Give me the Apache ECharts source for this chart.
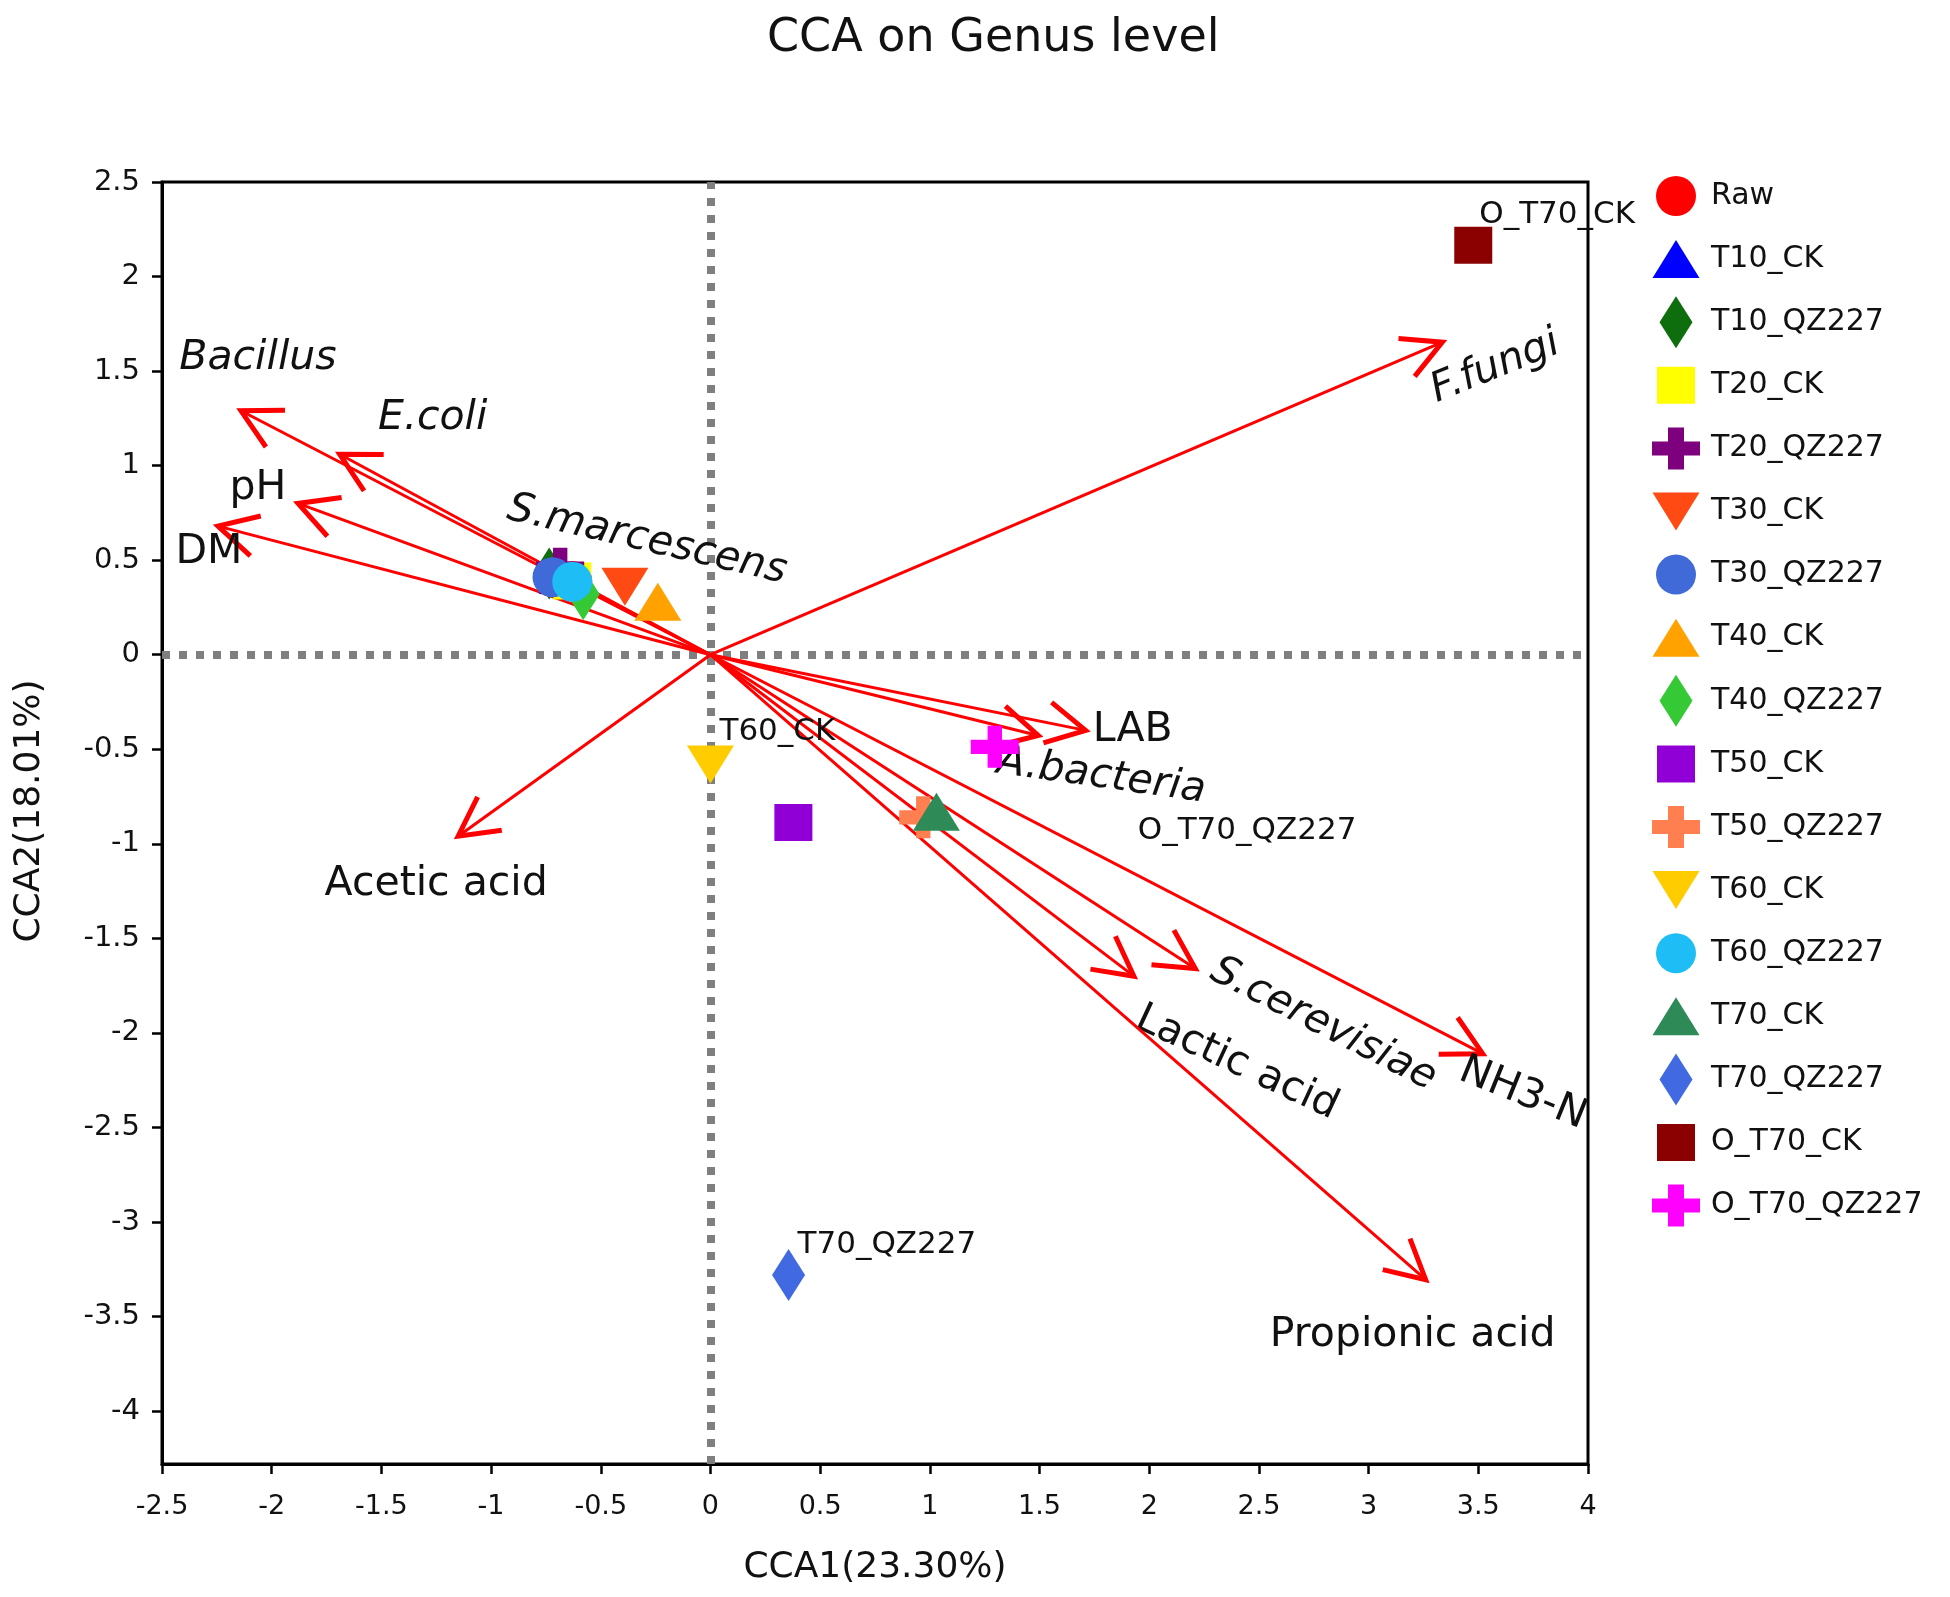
<!DOCTYPE html>
<html><head><meta charset="utf-8">
<script src="https://cdn.jsdelivr.net/npm/echarts@6.0.0/dist/echarts.min.js"></script>
<style>html,body{margin:0;padding:0;background:#fff;} #c{width:1950px;height:1597px;}</style>
</head><body><div id="c"></div><script>
// ---- data ----
const sampleNames = ['Raw','T10_CK','T10_QZ227','T20_CK','T20_QZ227','T30_CK','T30_QZ227','T40_CK','T40_QZ227','T50_CK','T50_QZ227','T60_CK','T60_QZ227','T70_CK','T70_QZ227','O_T70_CK','O_T70_QZ227'];
const sampleCCA1 = [-0.63,-0.676,-0.735,-0.63,-0.685,-0.39,-0.72,-0.24,-0.58,0.378,0.97,0.0,-0.63,1.03,0.356,3.477,1.296];
const sampleCCA2 = [0.39,0.423,0.43,0.39,0.455,0.36,0.41,0.28,0.32,-0.888,-0.86,-0.58,0.386,-0.83,-3.28,2.165,-0.487];

const arrowNames = ['Bacillus','E.coli','pH','DM','S.marcescens','F.fungi','LAB','A.bacteria','Lactic acid','S.cerevisiae','NH3-N','Propionic acid','Acetic acid'];
const arrowCCA1 = [-2.14,-1.69,-1.88,-2.245,-0.70,3.336,1.71,1.494,1.93,2.21,3.52,3.26,-1.15];
const arrowCCA2 = [1.29,1.06,0.80,0.68,0.42,1.653,-0.40,-0.427,-1.70,-1.66,-2.11,-3.305,-0.96];

const labelledSamples = ['O_T70_CK','T60_CK','T70_QZ227','O_T70_QZ227'];

// ---- styles ----
const FONT = 'DejaVu Sans, Verdana, sans-serif';
const SYM = {
  circle: 'circle',
  up: 'path://M50,0 L100,80 L0,80 Z',
  down: 'path://M0,0 L100,0 L50,80 Z',
  diamond: 'path://M32,0 L64,50 L32,100 L0,50 Z',
  square: 'rect',
  cross: 'path://M42,0 H78 V33 H120 V67 H78 V100 H42 V67 H0 V33 H42 Z'
};
const SIZE = {circle:[40,40], up:[47,38], down:[47,38], diamond:[33,52], square:[38,37], cross:[48,42]};
// legend icons drawn in a 48x52 box (first two moveTo's fix the box)
const LEGEND_ICON = {
  circle: 'path://M0,0M48,52M4,26A20,20 0 1 1 44,26A20,20 0 1 1 4,26Z',
  up: 'path://M0,0M48,52M24,7L47.5,45L0.5,45Z',
  down: 'path://M0,0M48,52M0.5,7L47.5,7L24,45Z',
  diamond: 'path://M0,0M48,52M24,0L40.5,26L24,52L7.5,26Z',
  square: 'path://M0,0M48,52M5,7.5H43V44.5H5Z',
  cross: 'path://M0,0M48,52M16,5H32V19H48V33H32V47H16V33H0V19H16Z'
};
const sampleStyle = [
  ['#FF0000','circle'], ['#0000FF','up'], ['#0E6E0E','diamond'], ['#FFFF00','square'],
  ['#7F007F','cross'], ['#FF4A14','down'], ['#3F6AD8','circle'], ['#FFA200','up'],
  ['#35C935','diamond'], ['#9000D6','square'], ['#FF7F50','cross'], ['#FFCC00','down'],
  ['#1EBDF5','circle'], ['#2E8B57','up'], ['#4169E1','diamond'], ['#8B0000','square'], ['#FF00FF','cross']
];
const pointLabelOffset = {O_T70_CK:[6,-30], T60_CK:[9,-32], T70_QZ227:[9,-30], O_T70_QZ227:[143,84]};
// [dx, dy, rotate(deg), italic, drawArrow]
const arrowLabel = {
  'Bacillus':[17,-52,0,true,true], 'E.coli':[93,-36,0,true,true], 'pH':[-40,-15,0,false,true], 'DM':[-9,26,0,false,true],
  'S.marcescens':[90,-35,-13,true,false], 'F.fungi':[53,25,22,true,true], 'LAB':[47,0,0,false,true],
  'A.bacteria':[63,41,-8,true,true], 'Lactic acid':[103,87,-25,false,true], 'S.cerevisiae':[128,56,-27,true,true],
  'NH3-N':[40,40,-22,false,true], 'Propionic acid':[-13,56,0,false,true], 'Acetic acid':[-22,48,0,false,true]
};

const scatterSeries = sampleNames.map((n, i) => {
  const [color, shape] = sampleStyle[i];
  const item = {value: [sampleCCA1[i], sampleCCA2[i]]};
  if (labelledSamples.includes(n)) {
    item.label = {show: true, position: 'inside', align: 'left', verticalAlign: 'middle',
      offset: pointLabelOffset[n], formatter: n, fontSize: 31, color: '#111', fontFamily: FONT};
  }
  return {
    name: n, type: 'scatter', z: 4,
    symbol: SYM[shape], symbolSize: SIZE[shape], symbolKeepAspect: false,
    itemStyle: {color: color, opacity: 1},
    emphasis: {disabled: true},
    data: [item]
  };
});

const arrowSeries = {
  type: 'custom', name: 'arrows', z: 3, clip: false, silent: true,
  encode: {x: 0, y: 1},
  data: arrowNames.map((n, i) => [arrowCCA1[i], arrowCCA2[i]]),
  renderItem: function (params, api) {
    const name = arrowNames[params.dataIndex];
    const o = api.coord([0, 0]);
    const t = api.coord([api.value(0), api.value(1)]);
    const ang = Math.atan2(t[1] - o[1], t[0] - o[0]);
    const L = 44, ha = 28 * Math.PI / 180;
    const w1 = [t[0] - L * Math.cos(ang - ha), t[1] - L * Math.sin(ang - ha)];
    const w2 = [t[0] - L * Math.cos(ang + ha), t[1] - L * Math.sin(ang + ha)];
    const st = arrowLabel[name];
    const children = [
      {type: 'line', shape: {x1: o[0], y1: o[1], x2: t[0], y2: t[1]}, style: {stroke: '#FF0000', lineWidth: 3}}
    ];
    if (st[4]) {
      children.push({type: 'polyline', shape: {points: [w1, t, w2]}, style: {stroke: '#FF0000', lineWidth: 5, fill: null, lineJoin: 'miter'}});
    }
    children.push({type: 'text', x: t[0] + st[0], y: t[1] + st[1], rotation: st[2] * Math.PI / 180,
      style: {text: name, align: 'center', verticalAlign: 'middle', fontSize: 41,
        fontStyle: st[3] ? 'italic' : 'normal', fontFamily: FONT, fill: '#111'}});
    return {type: 'group', children: children};
  }
};

const refLines = {
  type: 'scatter', name: 'ref', z: 1, data: [],
  markLine: {
    silent: true, symbol: ['none', 'none'], z: 1, animation: false,
    label: {show: false},
    lineStyle: {color: '#7F7F7F', width: 8, type: [8, 9]},
    data: [{xAxis: 0}, {yAxis: 0}]
  }
};

const chart = echarts.init(document.getElementById('c'));
chart.setOption({
  animation: false,
  backgroundColor: '#fff',
  title: {text: 'CCA on Genus level', left: 762, top: 11,
    textStyle: {fontSize: 46, fontWeight: 'normal', color: '#111', fontFamily: FONT}},
  legend: {
    data: sampleNames.map((n, i) => ({name: n, icon: LEGEND_ICON[sampleStyle[i][1]]})),
    orient: 'vertical', left: 1652, top: 170, padding: 0,
    itemWidth: 48, itemHeight: 52, itemGap: 11.1, selectedMode: false, symbolKeepAspect: false,
    textStyle: {fontSize: 30, color: '#111', fontFamily: FONT, padding: [0, 0, 0, 6]}
  },
  grid: {left: 162, right: 362, top: 182, bottom: 133, show: true, borderColor: '#000', borderWidth: 3, backgroundColor: 'transparent'},
  xAxis: {
    type: 'value', min: -2.5, max: 4, interval: 0.5,
    name: 'CCA1(23.30%)', nameLocation: 'middle', nameGap: 86,
    nameTextStyle: {fontSize: 36, color: '#111', fontFamily: FONT},
    axisLine: {show: true, onZero: false, lineStyle: {color: '#000', width: 3}},
    axisTick: {show: true, inside: false, length: 10, lineStyle: {color: '#000', width: 2.5}},
    axisLabel: {fontSize: 27, color: '#111', margin: 29, fontFamily: FONT},
    splitLine: {show: false}
  },
  yAxis: {
    type: 'value', min: -4.28, max: 2.5, splitNumber: 13,
    name: 'CCA2(18.01%)', nameLocation: 'middle', nameGap: 114,
    nameTextStyle: {fontSize: 36, color: '#111', fontFamily: FONT, padding: [0, 0, 0, 24]},
    axisLine: {show: true, onZero: false, lineStyle: {color: '#000', width: 3}},
    axisTick: {show: true, inside: false, length: 10, lineStyle: {color: '#000', width: 2.5}},
    axisLabel: {fontSize: 29, color: '#111', margin: 22, fontFamily: FONT, showMinLabel: false},
    splitLine: {show: false}
  },
  series: [refLines, arrowSeries].concat(scatterSeries)
});
</script></body></html>
